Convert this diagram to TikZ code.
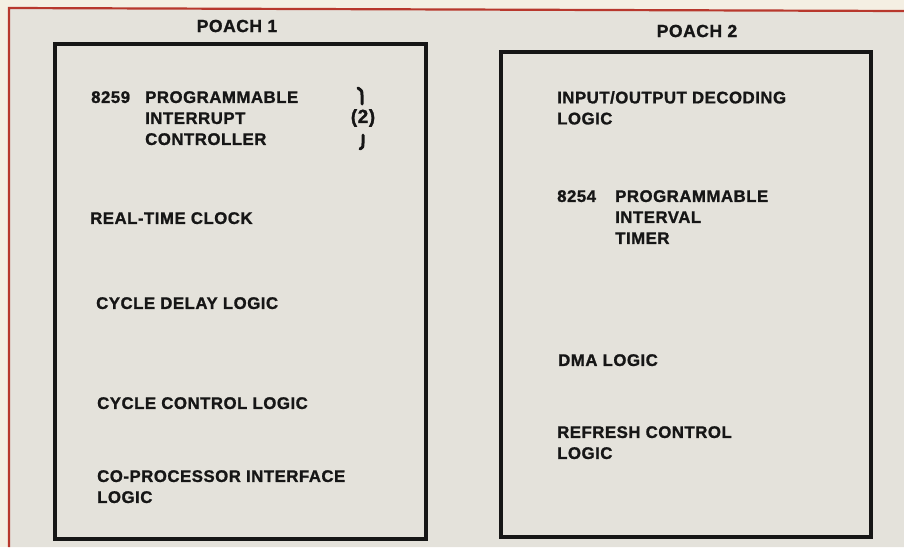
\documentclass[tikz,border=0pt]{standalone}
\usepackage{fontspec}
\setmainfont{Liberation Sans}[LetterSpace=3,BoldFeatures={FakeBold=1.2}]
\definecolor{cream}{HTML}{F4EFE3}
\definecolor{paper}{HTML}{E4E2DB}
\definecolor{rule}{HTML}{B8382D}
\definecolor{ink}{HTML}{161616}
\begin{document}
\begin{tikzpicture}[x=1pt,y=-1pt,
  lbl/.style={anchor=north west,align=left,inner sep=0pt,font=\fontsize{16.8}{21}\selectfont\bfseries,text=ink},
  ttl/.style={inner sep=0pt,font=\fontsize{17.5}{21}\selectfont\bfseries,text=ink},
  poach/.style={draw=ink,line width=3.2pt},
  brk/.style={draw=ink,line width=3pt,line cap=round}]
\useasboundingbox (0,0) rectangle (904,547);
\fill[cream] (0,0) rectangle (904,547);
\fill[paper] (9,8) -- (904,11) -- (904,547) -- (9,547) -- cycle;
\draw[rule,line width=2.2pt] (9,547) -- (9,8) -- (904,11);
% boxes
\draw[poach] (55,44) rectangle (426,539);
\draw[poach] (501,52) rectangle (871,537);
% titles
\node[ttl] (t1) at (237,26) {POACH 1};
\node[ttl] (t2) at (697,31) {POACH 2};
% POACH 1 contents
\node[lbl] (n8259) at (91,91) {8259};
\node[lbl] (pic) at (145,91) {PROGRAMMABLE\\INTERRUPT\\CONTROLLER};
\node[ttl,font=\fontsize{19}{21}\selectfont\bfseries] (two) at (363,118) {(2)};
\draw[brk] ([xshift=-3pt,yshift=-31pt]two.center) .. controls ([xshift=0pt,yshift=-29pt]two.center) .. ([xshift=0pt,yshift=-25pt]two.center) -- ([xshift=0pt,yshift=-17pt]two.center);
\draw[brk] ([xshift=-1pt,yshift=14pt]two.center) -- ([xshift=-1pt,yshift=23pt]two.center) .. controls ([xshift=-1pt,yshift=27pt]two.center) .. ([xshift=-5pt,yshift=30pt]two.center);
\node[lbl] (rtc) at (90,212) {REAL-TIME CLOCK};
\node[lbl] (cdl) at (96,297) {CYCLE DELAY LOGIC};
\node[lbl] (ccl) at (97,397) {CYCLE CONTROL LOGIC};
\node[lbl] (cpi) at (97,470) {CO-PROCESSOR INTERFACE\\LOGIC};
% POACH 2 contents
\node[lbl] (iod) at (557,91) {INPUT/OUTPUT DECODING\\LOGIC};
\node[lbl] (n8254) at (557,190) {8254};
\node[lbl] (pit) at (615,190) {PROGRAMMABLE\\INTERVAL\\TIMER};
\node[lbl] (dma) at (558,354) {DMA LOGIC};
\node[lbl] (rcl) at (557,426) {REFRESH CONTROL\\LOGIC};
\end{tikzpicture}
\end{document}
